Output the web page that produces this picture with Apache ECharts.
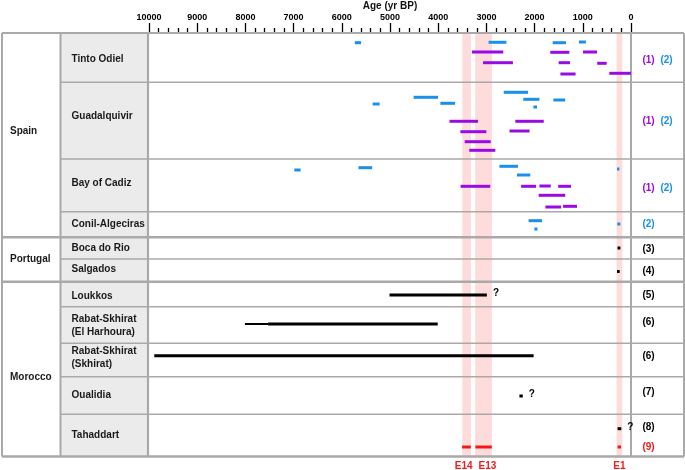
<!DOCTYPE html>
<html><head><meta charset="utf-8">
<script src="https://cdn.jsdelivr.net/npm/echarts@6.0.0/dist/echarts.min.js"></script>
<style>html,body{margin:0;padding:0;background:#fff}#c{width:685px;height:470px}</style>
</head><body><div id="c"></div><script>
// ---------- DATA ----------
const axisTitle = 'Age (yr BP)';
const ageTicks = [10000, 9000, 8000, 7000, 6000, 5000, 4000, 3000, 2000, 1000, 0];
const countries = ['Spain', 'Portugal', 'Morocco'];
const sites = ['Tinto Odiel', 'Guadalquivir', 'Bay of Cadiz', 'Conil-Algeciras', 'Boca do Rio', 'Salgados',
  'Loukkos', 'Rabat-Skhirat\n(El Harhoura)', 'Rabat-Skhirat\n(Skhirat)', 'Oualidia', 'Tahaddart'];
// Events (older, younger) in yr BP
const events = [['E14', 3500, 3320], ['E13', 3235, 2885], ['E1', 300, 180]];
// age ranges: [older yr BP, younger yr BP, lane]
const tintoBlue = [[5730, 5600, 9.7], [2955, 2585, 9.3], [1625, 1350, 9.7], [1080, 935, 9]];
const tintoPurple = [[3300, 2650, 19], [1675, 1280, 19.3], [995, 705, 19], [3070, 2450, 29.7],
  [1500, 1265, 29.7], [700, 505, 30.3], [1465, 1150, 41], [450, 0, 40.3]];
const guadBlue = [[2640, 2135, 59.3], [4510, 4005, 64.3], [3955, 3650, 70.3], [5360, 5215, 71],
  [2235, 1900, 66.3], [1610, 1365, 67], [2025, 1950, 74]];
const guadPurple = [[3765, 3175, 88.3], [2400, 1810, 88.3], [3540, 3000, 98.7], [2520, 2105, 98],
  [3450, 2910, 108.7], [3355, 2815, 117.3]];
const cadizBlue = [[2730, 2345, 133.3], [2365, 2090, 142], [290, 240, 136], [6985, 6855, 137], [5655, 5370, 134.7]];
const cadizPurple = [[3535, 2920, 153.3], [2280, 1970, 153.3], [1900, 1665, 153], [1510, 1245, 153.3],
  [1915, 1365, 162.3], [1775, 1450, 174], [1410, 1120, 173.3]];
const conilBlue = [[2125, 1845, 187.7], [2005, 1940, 196], [285, 220, 191]];
const bocaBlack = [[280, 220, 215]];
const salgadosBlack = [[290, 235, 238.5]];
const loukkosBlack = [[5010, 2990, 262]];
const harhouraBlackThin = [[8010, 7530, 291]];
const harhouraBlack = [[7530, 4010, 291]];
const skhiratBlack = [[9890, 2020, 322.7]];
const oualidiaBlack = [[2315, 2245, 363]];
const tahaddartBlack = [[278, 201, 395.7]];
const tahaddartRed = [[3504, 3323, 414], [3228, 2887, 414], [278, 208, 414]];
// uncertain ("?") markers: [age, lane]
const queries = [[2990, 262], [2245, 363], [201, 395.7]];
// reference labels per site: [text, colour key, lane, column]
const refLabels = [
  ['(1)', 'p', 27.7, 0], ['(2)', 'b', 27.7, 1],
  ['(1)', 'p', 88.7, 0], ['(2)', 'b', 88.7, 1],
  ['(1)', 'p', 155.3, 0], ['(2)', 'b', 155.3, 1],
  ['(2)', 'b', 191.3, 0], ['(3)', 'k', 216.5, 0], ['(4)', 'k', 238.3, 0],
  ['(5)', 'k', 262, 0], ['(6)', 'k', 289.3, 0], ['(6)', 'k', 323, 0],
  ['(7)', 'k', 359.7, 0], ['(8)', 'k', 394, 0], ['(9)', 'r', 414.3, 0]
];

// ---------- STYLE ----------
const FONT = 'Liberation Sans, Arial, Helvetica, sans-serif';
const C = { b: '#1a8fec', p: '#9a0ae6', k: '#000000', r: '#f21818' };
const LINE = '#a9a9a9';

const chart = echarts.init(document.getElementById('c'));

function rangeSeries(data, color, width) {
  return {
    type: 'custom', data: data, z: 10, clip: false,
    encode: { x: [0, 1], y: 2 },
    renderItem: function (params, api) {
      const a = api.coord([api.value(0), api.value(2)]);
      const b = api.coord([api.value(1), api.value(2)]);
      return { type: 'line', shape: { x1: a[0], y1: a[1], x2: b[0], y2: b[1] },
        style: { stroke: color, lineWidth: width } };
    }
  };
}

const series = [
  { type: 'line', data: [], z: 1, silent: true,
    markArea: {
      silent: true,
      itemStyle: { color: 'rgba(255,60,60,0.18)' },
      label: { show: true, position: 'bottom', distance: 5, color: '#ee1c1c', fontWeight: 'bold', fontSize: 10, fontFamily: FONT },
      data: events.map((e, i) => [{ name: e[0], xAxis: e[1], label: { offset: [[-3, 0], [4, 0], [0, 0]][i] } }, { xAxis: e[2] }])
    }
  },
  rangeSeries(tintoBlue.concat(guadBlue, cadizBlue, conilBlue), C.b, 3),
  rangeSeries(tintoPurple.concat(guadPurple, cadizPurple), C.p, 3),
  rangeSeries(bocaBlack.concat(salgadosBlack, loukkosBlack, harhouraBlack, skhiratBlack, oualidiaBlack, tahaddartBlack), C.k, 3),
  rangeSeries(harhouraBlackThin, C.k, 2),
  rangeSeries(tahaddartRed, C.r, 3),
  { type: 'custom', data: queries, z: 10, clip: false, encode: { x: 0, y: 1 },
    renderItem: function (params, api) {
      const p = api.coord([api.value(0), api.value(1)]);
      return { type: 'text', x: p[0] + 6, y: p[1] - 1.5,
        style: { text: '?', fill: '#000', font: 'bold 10px ' + FONT, verticalAlign: 'middle', align: 'left' } };
    }
  }
];

chart.setOption({
  animation: false,
  grid: { left: 149, right: 54, top: 33, height: 423.5, containLabel: false, outerBoundsMode: 'none' },
  xAxis: {
    type: 'value', inverse: true, position: 'top',
    min: ageTicks[ageTicks.length - 1], max: ageTicks[0], interval: 1000,
    axisLine: { show: false },
    axisTick: { show: true, length: 10, lineStyle: { color: '#000', width: 1.3 } },
    minorTick: { show: true, splitNumber: 5, length: 5, lineStyle: { color: '#000', width: 1.3 } },
    splitLine: { show: false },
    axisLabel: { margin: 11, fontWeight: 'bold', fontSize: 9, color: '#000', fontFamily: FONT,
      formatter: v => String(v) }
  },
  yAxis: { type: 'value', inverse: true, min: 0, max: 423.5, show: false },
  series: series
});

// ---------- TABLE FRAME ----------
const G = [];
function hline(y, x1, x2, w) { G.push({ type: 'line', z: 5, shape: { x1: x1, y1: y, x2: x2, y2: y }, style: { stroke: LINE, lineWidth: w } }); }
function vline(x, y1, y2, w) { G.push({ type: 'line', z: 5, shape: { x1: x, y1: y1, x2: x, y2: y2 }, style: { stroke: LINE, lineWidth: w } }); }
function text(t, x, y, color, align) {
  G.push({ type: 'text', z: 20, x: x, y: y, style: { text: t, fill: color || '#1a1a1a', font: 'bold 10px ' + FONT,
    align: align || 'left', verticalAlign: 'middle', lineHeight: 13 } });
}
const frameTop = 33, frameBot = 456.5;
G.push({ type: 'rect', z: 1, shape: { x: 61, y: frameTop, width: 87, height: frameBot - frameTop }, style: { fill: '#ebebeb' } });
hline(frameTop, 2, 684, 2); hline(frameBot, 2, 684, 2.5);
vline(2, frameTop, frameBot, 2); vline(684, frameTop, frameBot, 2);
vline(60.5, frameTop, frameBot, 2); vline(148, frameTop, frameBot, 2.2); vline(631, frameTop, frameBot, 2);
[82.3, 159, 211.7, 259, 306.7, 343.3, 376.7, 414.3].forEach(y => hline(y, 60.5, 684, 1.6));
[237.3, 281.7].forEach(y => hline(y, 2, 684, 2.4));

// axis title, centred over the age axis
const midX = (chart.convertToPixel({ gridIndex: 0 }, [ageTicks[0], 0])[0] +
  chart.convertToPixel({ gridIndex: 0 }, [ageTicks[ageTicks.length - 1], 0])[0]) / 2;
text(axisTitle, midX, 6.5, '#111', 'center');
// country labels
[131, 259, 377].forEach((y, i) => text(countries[i], 10, y));
// site labels
const siteY = [59, 116, 183, 224, 248, 269.5, 296.5, 325.5, 358, 395.7, 435.7];
sites.forEach((s, i) => text(s, 71.5, siteY[i]));
// reference labels
refLabels.forEach(r => {
  const py = chart.convertToPixel({ gridIndex: 0 }, [0, r[2]])[1];
  text(r[0], r[3] === 0 ? 648.5 : 666.5, py, C[r[1]], 'center');
});
chart.setOption({ graphic: { elements: G } });
</script></body></html>
